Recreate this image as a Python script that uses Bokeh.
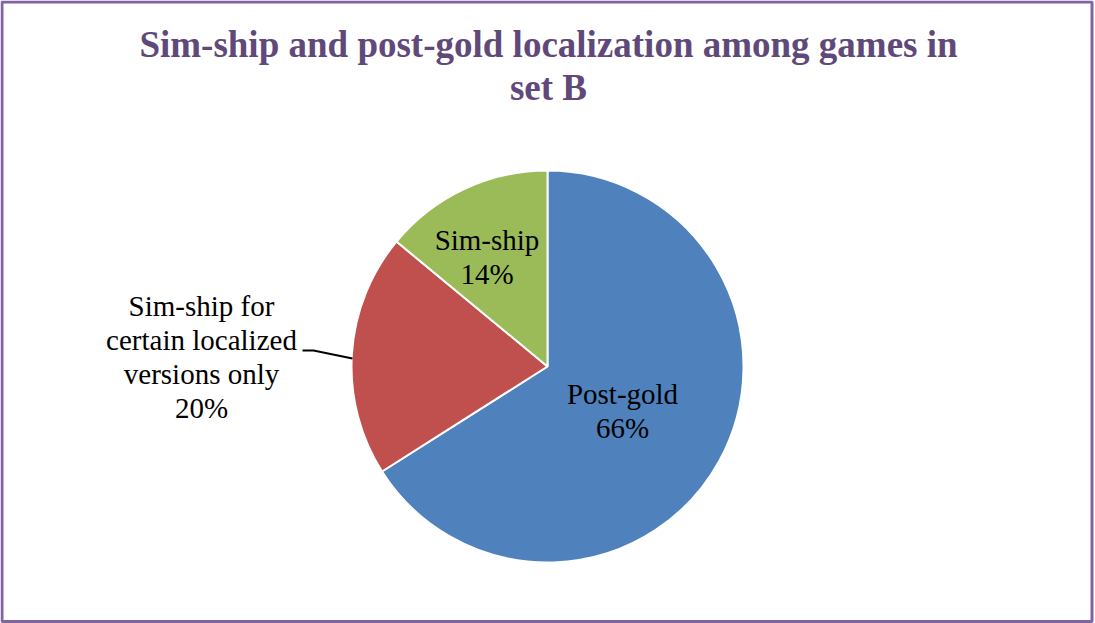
import numpy as np
from bokeh.plotting import figure
from bokeh.models import Range1d
from bokeh.core.properties import value
from bokeh.embed import file_html
from bokeh.resources import INLINE

# ---- data ----
categories = ["Post-gold", "Sim-ship for\ncertain localized\nversions only", "Sim-ship"]
shares = [66, 20, 14]
colors = ["#4F81BD", "#C0504D", "#9BBB59"]
title_lines = ["Sim-ship and post-gold localization among games in", "set B"]

# ---- layout (pixel positions, top-down) ----
W, H = 1095, 623
CX, CY, R = 547, H - 366, 196
FONT = value("Liberation Serif")
LABEL_SIZE = 29
LABEL_STEP = 34
TEXT_SHIFT = 10  # renderer places alphabetic baseline slightly low
# (center x, baseline of first line) for each slice label
lab_pos = [(622, 403), (201, 315), (486.5, 249)]

p = figure(width=W, height=H, output_backend="svg", toolbar_location=None,
           x_range=Range1d(0, W), y_range=Range1d(0, H), min_border=0)
p.axis.visible = False
p.grid.visible = False
p.outline_line_color = None
p.background_fill_color = "white"

# chart border
p.quad(left=[1.5], right=[W - 3.5], bottom=[2], top=[H - 1.5],
       fill_color=None, line_color="#8064A2", line_width=3)

# wedges
total = float(sum(shares))
fr = np.array(shares) / total
cum = np.concatenate([[0], np.cumsum(fr)])
start = np.pi / 2 - cum[:-1] * 2 * np.pi
end = np.pi / 2 - cum[1:] * 2 * np.pi
p.wedge(x=[CX] * 3, y=[CY] * 3, radius=R, start_angle=list(start), end_angle=list(end),
        direction="clock", fill_color=colors, line_color="white", line_width=2)

# labels, one text per line so baselines can be placed exactly
xs, ys, ts = [], [], []
for (lx, ly), c, s in zip(lab_pos, categories, shares):
    lines = c.split("\n") + [f"{s}%"]
    for k, t in enumerate(lines):
        xs.append(lx)
        ys.append(H - (ly + k * LABEL_STEP - TEXT_SHIFT))
        ts.append(t)
p.text(x=xs, y=ys, text=ts, text_align="center", text_baseline="alphabetic",
       text_font=FONT, text_font_size=f"{LABEL_SIZE}px", text_color="black")

# leader line for outside label
p.line(x=[302, 313, 352], y=[H - 350, H - 350, H - 358], line_color="black", line_width=1.8)

# title
p.text(x=[W / 2 + 0.5] * 2, y=[H - 54 + TEXT_SHIFT, H - 97 + TEXT_SHIFT], text=title_lines,
       text_align="center", text_baseline="alphabetic", text_font=FONT, text_font_style="bold",
       text_font_size="37px", text_color="#5F497A")

open("out.html", "w").write(file_html(p, INLINE))
